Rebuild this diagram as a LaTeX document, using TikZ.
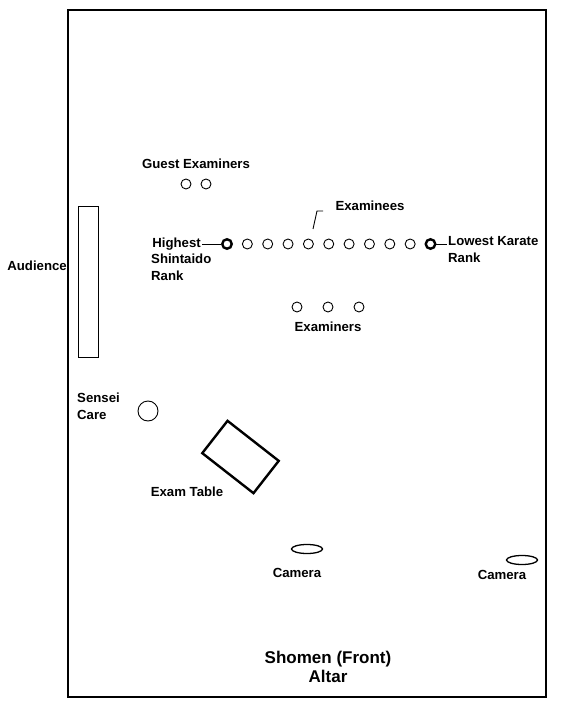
\documentclass[tikz,border=0pt]{standalone}
\usepackage{fontspec}
\setmainfont{Liberation Sans}
\usetikzlibrary{positioning,shapes.geometric}

\begin{document}
\begin{tikzpicture}[
    x=1pt, y=-1pt,
    every node/.style={font=\fontsize{13.2}{17}\selectfont\bfseries},
    lbl/.style={inner sep=1pt, align=left},
    person/.style={draw, circle, line width=0.9pt, minimum size=10pt, inner sep=0pt},
    lead/.style={draw, circle, line width=2.4pt, minimum size=9.5pt, inner sep=0pt},
    camera/.style={draw, ellipse, line width=1.3pt, minimum width=31pt, minimum height=9pt, inner sep=0pt}
  ]
  \useasboundingbox (0,0) rectangle (580,708);
  % hall outline
  \draw[line width=1.4pt] (68,10) rectangle (546,697);

  % audience
  \node[draw, line width=0.9pt, minimum width=20pt, minimum height=151pt, inner sep=0pt] (aud) at (88,281.5) {};
  \node[lbl, anchor=east] (audt) at (68,266) {Audience};

  % guest examiners
  \node[lbl] (guest) at (196,164) {Guest Examiners};
  \node[person] (g1) at (186,184) {};
  \node[person] (g2) at (206,184) {};

  % examinees
  \node[lead] (top) at (227,244) {};
  \foreach \i in {1,...,9}
    \node[person] (e\i) at (227+20.35*\i,244) {};
  \node[lead] (low) at (430.5,244) {};
  \node[lbl, anchor=east] (hi) at (202,244) {Highest};
  \node[lbl, anchor=north west] (hib) at (150,253) {Shintaido\\Rank};
  \draw[line width=0.9pt] (hi) -- (top);
  \node[lbl, anchor=north west] (lo) at (447,235) {Lowest Karate\\Rank};
  \draw[line width=0.9pt] (low) -- (low -| lo.west);
  \node[lbl] (ex) at (370,206) {Examinees};
  \coordinate (exl) at (313,229);
  \draw[line width=0.9pt] (exl) -- ++(4,-18) -- ++(6,0);

  % examiners
  \node[person] (x1) at (297,307) {};
  \node[person] (x2) at (328,307) {};
  \node[person] (x3) at (359,307) {};
  \node[lbl] (exs) at (328,327) {Examiners};

  % sensei and table
  \node[lbl, anchor=west] (sen) at (76,406.5) {Sensei\\Care};
  \node[draw, circle, line width=0.9pt, minimum size=20pt, inner sep=0pt] (care) at (148,411) {};
  \node[draw, line width=2.4pt, minimum width=65pt, minimum height=41pt, inner sep=0pt, rotate=-38] (table) at (240.5,457) {};
  \node[lbl] (tab) at (187,492) {Exam Table};

  % cameras
  \node[camera] (cam1) at (307,549) {};
  \node[lbl] (cam1t) at (297,573) {Camera};
  \node[camera] (cam2) at (522,560) {};
  \node[lbl] (cam2t) at (502,575) {Camera};

  % front
  \node[lbl, align=center, font=\fontsize{17}{19}\selectfont\bfseries] (front) at (328,667) {Shomen (Front)\\Altar};
\end{tikzpicture}
\end{document}
